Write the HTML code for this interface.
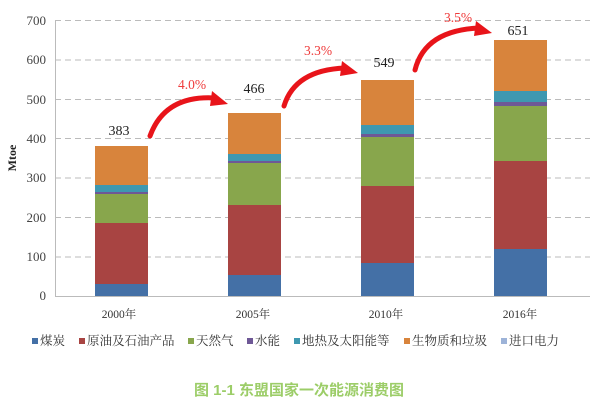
<!DOCTYPE html>
<html><head><meta charset="utf-8"><style>
body{margin:0;background:#fff;}
svg text{font-family:"Liberation Serif","Noto Serif CJK SC",serif;}
</style></head><body>
<svg width="600" height="407" viewBox="0 0 600 407" xmlns="http://www.w3.org/2000/svg">
<g stroke="#bbb" stroke-width="1" stroke-dasharray="6,4">
<line x1="55" x2="590" y1="20.5" y2="20.5"/>
<line x1="55" x2="590" y1="60" y2="60"/>
<line x1="55" x2="590" y1="99.5" y2="99.5"/>
<line x1="55" x2="590" y1="138.5" y2="138.5"/>
<line x1="55" x2="590" y1="178" y2="178"/>
<line x1="55" x2="590" y1="217.5" y2="217.5"/>
<line x1="55" x2="590" y1="257" y2="257"/>
</g>
<line x1="55.5" x2="55.5" y1="20" y2="296" stroke="#bbb"/>
<line x1="55" x2="590" y1="296.5" y2="296.5" stroke="#bbb"/>
<g font-size="13" fill="#444" text-anchor="end">
<text x="46" y="25">700</text><text x="46" y="64">600</text><text x="46" y="104">500</text>
<text x="46" y="143">400</text><text x="46" y="182">300</text><text x="46" y="222">200</text>
<text x="46" y="261">100</text><text x="46" y="300">0</text>
</g>
<text transform="translate(16,158) rotate(-90)" font-size="12" font-weight="bold" text-anchor="middle" fill="#222">Mtoe</text>
<g>
<rect x="95" y="284" width="53" height="12" fill="#4470a6"/>
<rect x="95" y="223" width="53" height="61" fill="#a84442"/>
<rect x="95" y="194" width="53" height="29" fill="#88a64c"/>
<rect x="95" y="192" width="53" height="2" fill="#6e5896"/>
<rect x="95" y="185" width="53" height="7" fill="#3e98b0"/>
<rect x="95" y="146" width="53" height="39" fill="#d8843c"/>

<rect x="228" y="275" width="53" height="21" fill="#4470a6"/>
<rect x="228" y="205" width="53" height="70" fill="#a84442"/>
<rect x="228" y="163" width="53" height="42" fill="#88a64c"/>
<rect x="228" y="161" width="53" height="2" fill="#6e5896"/>
<rect x="228" y="154" width="53" height="7" fill="#3e98b0"/>
<rect x="228" y="113" width="53" height="41" fill="#d8843c"/>

<rect x="361" y="263" width="53" height="33" fill="#4470a6"/>
<rect x="361" y="186" width="53" height="77" fill="#a84442"/>
<rect x="361" y="137" width="53" height="49" fill="#88a64c"/>
<rect x="361" y="134" width="53" height="3" fill="#6e5896"/>
<rect x="361" y="125" width="53" height="9" fill="#3e98b0"/>
<rect x="361" y="80" width="53" height="45" fill="#d8843c"/>

<rect x="494" y="249" width="53" height="47" fill="#4470a6"/>
<rect x="494" y="161" width="53" height="88" fill="#a84442"/>
<rect x="494" y="106" width="53" height="55" fill="#88a64c"/>
<rect x="494" y="102" width="53" height="4" fill="#6e5896"/>
<rect x="494" y="91" width="53" height="11" fill="#3e98b0"/>
<rect x="494" y="40" width="53" height="51" fill="#d8843c"/>
</g>
<g font-size="14" fill="#222" text-anchor="middle">
<text x="119" y="135">383</text><text x="254" y="93">466</text>
<text x="384" y="67">549</text><text x="518" y="35">651</text>
</g>
<g fill="none" stroke="#e8141a" stroke-width="5" stroke-linecap="round">
<path d="M150 136 Q165 95 215 98"/>
<path d="M284 106 Q295 70 345 68"/>
<path d="M415 70 Q425 30 480 28"/>
</g>
<g fill="#e8141a">
<polygon points="212,91 228,104 210,106"/>
<polygon points="342,61 358,73 340,76"/>
<polygon points="476,21 492,33 474,36"/>
</g>
<g font-size="13.5" fill="#ef3b3b" text-anchor="middle">
<text x="192" y="89">4.0%</text><text x="318" y="55">3.3%</text><text x="458" y="22">3.5%</text>
</g>
<g font-size="11.5" fill="#333" text-anchor="middle">
<text x="119" y="318">2000年</text><text x="253" y="318">2005年</text>
<text x="386" y="318">2010年</text><text x="520" y="318">2016年</text>
</g>
<g font-size="12.5" fill="#333">
<rect x="32" y="338" width="6" height="6" fill="#4470a6"/><text x="40" y="345">煤炭</text>
<rect x="79" y="338" width="6" height="6" fill="#a84442"/><text x="87" y="345">原油及石油产品</text>
<rect x="188" y="338" width="6" height="6" fill="#88a64c"/><text x="196" y="345">天然气</text>
<rect x="247" y="338" width="6" height="6" fill="#6e5896"/><text x="255" y="345">水能</text>
<rect x="294" y="338" width="6" height="6" fill="#3e98b0"/><text x="302" y="345">地热及太阳能等</text>
<rect x="404" y="338" width="6" height="6" fill="#d8843c"/><text x="412" y="345">生物质和垃圾</text>
<rect x="501" y="338" width="6" height="6" fill="#9db3d8"/><text x="509" y="345">进口电力</text>
</g>
<text x="299" y="395" font-size="15" font-weight="bold" fill="#9ccd68" text-anchor="middle" style="font-family:'Liberation Sans','Noto Sans CJK SC',sans-serif">图 1-1  东盟国家一次能源消费图</text>
</svg>
</body></html>
